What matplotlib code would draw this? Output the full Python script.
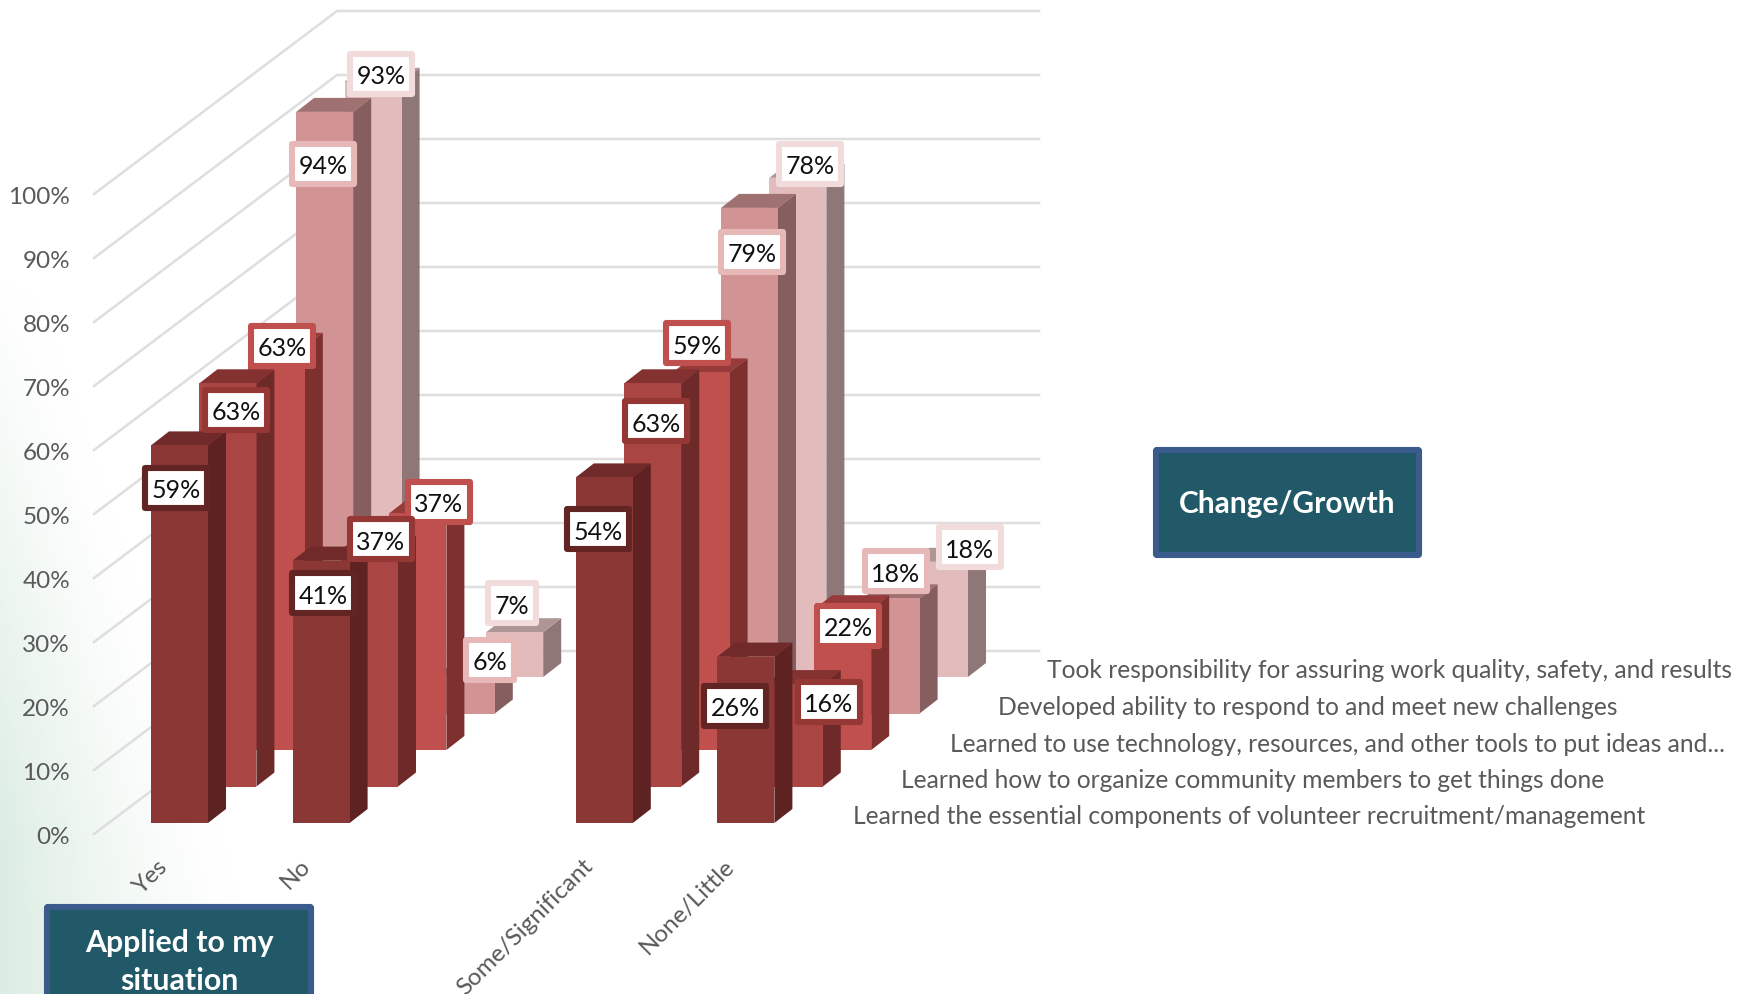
#!/usr/bin/env python3
"""3D style clustered column chart, drawn with an oblique projection on a flat axes"""

import numpy as np
import matplotlib
matplotlib.use('Agg')
import matplotlib.pyplot as plt
from matplotlib.patches import Polygon, FancyBboxPatch, Rectangle

categories = ['Yes', 'No', '', 'Some/Significant', 'None/Little']
series_names = [
    'Learned the essential components of volunteer recruitment/management',
    'Learned how to organize community members to get things done',
    'Learned to use technology, resources, and other tools to put ideas and...',
    'Developed ability to respond to and meet new challenges',
    'Took responsibility for assuring work quality, safety, and results',
]
# one list per series, front row first; None where the category is empty
row0_values = [59, 41, None, 54, 26]
row1_values = [63, 37, None, 63, 16]
row2_values = [63, 37, None, 59, 22]
row3_values = [94, 6, None, 79, 18]
row4_values = [93, 7, None, 78, 18]
series_values = [row0_values, row1_values, row2_values, row3_values, row4_values]
y_ticks = [0, 10, 20, 30, 40, 50, 60, 70, 80, 90, 100]

front_colors = ['#8B3736', '#A94542', '#C0504D', '#D19393', '#E2BCBC']
side_colors = ['#5F2222', '#6E2A29', '#7E302E', '#855F5F', '#8F7777']
top_colors = ['#6F2A29', '#843231', '#963B39', '#A07171', '#B09595']
label_edges = ['#632523', '#953735', '#C0504D', '#E6B9B8', '#F2DCDB']

# label box centres, same order as the values
label_xy = [
    [(176, 489), (323, 594), None, (598, 530), (735, 707)],
    [(236, 411), (381, 540), None, (656, 422), (829, 703)],
    [(282, 347), (439, 503), None, (697, 344), (848, 627)],
    [(323, 165), (490, 661), None, (752, 253), (896, 572)],
    [(381, 75), (512, 604), None, (810, 165), (970, 548)],
]

FONT = 'Lato'
GREY = '#595959'

# projection settings, in output pixels
PX_PER_PCT = 6.40
CAT_X0 = 151
CAT_STEP = 141.6
BAR_W = 57
ROW_DX = 48.4
ROW_DY = 36.5
BASE_Y0 = 824
SIDE_DX = 18
SIDE_DY = 14


def project(cat, row, value):
    """Front left corner of a bar at the given category, row and value"""
    x = CAT_X0 + CAT_STEP * cat + ROW_DX * row
    y = BASE_Y0 - ROW_DY * row - PX_PER_PCT * value
    return x, y


def draw_bar(ax, cat, row, value):
    x, y_top = project(cat, row, value)
    _, y_base = project(cat, row, 0)
    front = [(x, y_base), (x + BAR_W, y_base), (x + BAR_W, y_top), (x, y_top)]
    side = [(x + BAR_W, y_base), (x + BAR_W + SIDE_DX, y_base - SIDE_DY),
            (x + BAR_W + SIDE_DX, y_top - SIDE_DY), (x + BAR_W, y_top)]
    top = [(x, y_top), (x + BAR_W, y_top),
           (x + BAR_W + SIDE_DX, y_top - SIDE_DY), (x + SIDE_DX, y_top - SIDE_DY)]
    ax.add_patch(Polygon(side, closed=True, facecolor=side_colors[row], edgecolor='none'))
    ax.add_patch(Polygon(top, closed=True, facecolor=top_colors[row], edgecolor='none'))
    ax.add_patch(Polygon(front, closed=True, facecolor=front_colors[row], edgecolor='none'))


def draw_label(ax, row, cx, cy, value):
    text = f'{value}%'
    half_w = 27 if value < 10 else 34
    half_h = 23
    pad = 3
    ax.add_patch(Rectangle((cx - half_w + pad, cy - half_h + pad),
                           2 * (half_w - pad), 2 * (half_h - pad),
                           facecolor='white', edgecolor=label_edges[row],
                           linewidth=4.4, joinstyle='round'))
    ax.text(cx, cy + 2, text, ha='center', va='center', fontsize=18,
            family=FONT, color='#111111')


def draw_box(ax, x0, y0, x1, y1, lines, line_ys, size):
    ax.add_patch(FancyBboxPatch((x0 + 3, y0 + 3), x1 - x0 - 6, y1 - y0 - 6,
                                boxstyle='round,pad=0,rounding_size=1',
                                facecolor='#215968', edgecolor='#3A5B8C', linewidth=4.4))
    for line, y in zip(lines, line_ys):
        ax.text((x0 + x1) / 2, y, line, ha='center', va='center', color='white',
                fontsize=size, fontweight='bold', family=FONT)


fig = plt.figure(figsize=(17.37, 9.95), dpi=100)
ax = fig.add_axes([0, 0, 1, 1])

# faint green wash in the lower left corner
h, w = 995, 400
yy, xx = np.mgrid[0:h, 0:w]
fade = np.clip(1 - xx / (50 + 230 * np.clip((yy - 300) / 695, 0, 1)), 0, 1) ** 1.5
fade = fade * np.clip((yy - 280) / 560, 0, 1)
wash = np.zeros((h, w, 4))
wash[..., :3] = matplotlib.colors.to_rgb('#C6E3D2')
wash[..., 3] = fade * 0.62
ax.imshow(wash, extent=(0, w, h, 0), aspect='auto', zorder=0, interpolation='bilinear')
ax.set_xlim(0, 1737)
ax.set_ylim(995, 0)
ax.axis('off')

# gridlines: along the side wall, then along the back wall
for v in y_ticks:
    fx, fy = 94, 835 - PX_PER_PCT * v
    bx, by = 337, 652 - PX_PER_PCT * v
    ax.plot([fx, bx, 1039], [fy, by, by], color='#DEDEDE', linewidth=1.8, zorder=1,
            solid_joinstyle='miter')
    ax.text(70, fy + 2, f'{v}%', ha='right', va='center', fontsize=17.5,
            family=FONT, color=GREY)

# back rows first so the front rows hide them
for row in range(len(series_values) - 1, -1, -1):
    for cat, value in enumerate(series_values[row]):
        if value is not None:
            draw_bar(ax, cat, row, value)

for row in range(len(series_values) - 1, -1, -1):
    for cat, value in enumerate(series_values[row]):
        if value is not None:
            cx, cy = label_xy[row][cat]
            draw_label(ax, row, cx, cy, value)

for cat, name in enumerate(categories):
    if name:
        x, _ = project(cat, 0, 0)
        ax.text(x + 14, 863, name, rotation=45, rotation_mode='anchor', ha='right',
                va='center', fontsize=17.5, family=FONT, color=GREY, clip_on=True)

for row, name in enumerate(series_names):
    ax.text(853 + ROW_DX * row, 817 - ROW_DY * row, name, ha='left', va='center',
            fontsize=17.7, family=FONT, color=GREY)

draw_box(ax, 44, 905, 314, 1010, ['Applied to my', 'situation'], [943, 981], 21.8)
draw_box(ax, 1153, 448, 1422, 559, ['Change/Growth'], [504], 21.5)

fig.savefig('out.png', dpi=100)
